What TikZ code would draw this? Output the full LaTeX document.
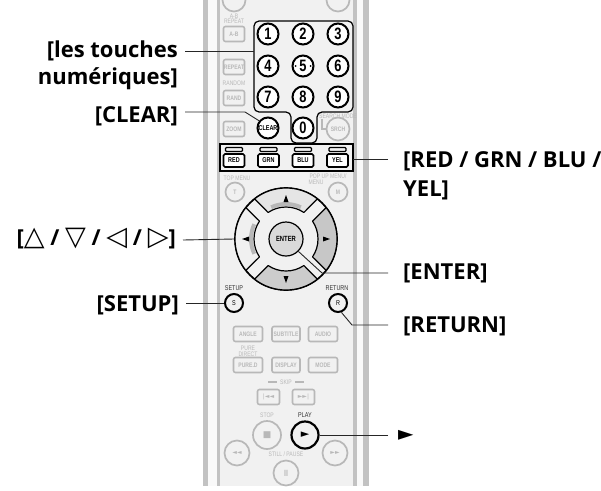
\documentclass[tikz,border=0pt]{standalone}
\usepackage{fontspec}
\setmainfont{Open Sans}
\newfontfamily\keyfont[FakeStretch=0.78]{Liberation Sans}
\newfontfamily\symfont{DejaVu Sans}
\definecolor{faded}{HTML}{B8B8B8}
\definecolor{casing}{HTML}{F1F1F1}
\definecolor{rail}{HTML}{C2C2C2}
\tikzset{
  callout/.style={font=\fontsize{22}{26}\selectfont\bfseries, inner ysep=0pt, inner xsep=7pt, text depth=0pt, text height=#1},
  callout/.default=12pt,
  leader/.style={black!85!white, line width=0.9pt},
  numkey/.style={circle, draw=black, line width=2pt, fill=white, minimum size=21pt, inner sep=0pt, font=\keyfont\bfseries\fontsize{16.5}{17}\selectfont},
  blackkey/.style={circle, draw=black, line width=2pt, fill=casing, inner sep=0pt, font=\keyfont\fontsize{7}{8}\selectfont},
  colourkey/.style={rounded corners=1.5pt, draw=black, line width=1.6pt, fill=white, minimum width=21pt, minimum height=13pt, inner sep=0pt, font=\keyfont\bfseries\fontsize{7}{8}\selectfont},
  colourbar/.style={rounded corners=1pt, draw=black, line width=1.3pt, fill=casing, minimum width=17pt, minimum height=4pt, inner sep=0pt},
  fadekey/.style={rounded corners=2pt, draw=faded, line width=1.6pt, fill=casing, text=faded, inner sep=0pt, font=\keyfont\bfseries\fontsize{6.5}{7}\selectfont},
  fadedisc/.style={circle, draw=faded, line width=1.7pt, fill=casing, text=faded, inner sep=0pt, font=\keyfont\bfseries\fontsize{6.5}{7}\selectfont},
  fadetext/.style={text=faded, inner sep=0pt, font=\keyfont\fontsize{6.5}{7}\selectfont},
  blacktext/.style={text=black!80!white, inner sep=0pt, font=\keyfont\fontsize{7}{8}\selectfont},
  petal/.style={draw=black, line width=1.2pt, line join=round}
}
\begin{document}
\begin{tikzpicture}[x=1pt,y=-1pt]
\useasboundingbox (0,0) rectangle (601,490);

%% Casing
\fill[white] (0,0) rectangle (601,490);
\fill[casing] (208,0) rectangle (363,486);
\fill[rail] (203,0) rectangle (208,486);
\fill[rail] (217,0) rectangle (220,486);
\fill[rail] (353,0) rectangle (357,486);
\fill[rail] (363,0) rectangle (369,486);
\fill[white!60!casing] (208,0) rectangle (217,486);
\fill[white!60!casing] (357,0) rectangle (363,486);

%% Top row, mostly cut off
\node[fadedisc, minimum size=23pt] (topL) at (234,0) {};
\node[fadedisc, minimum size=23pt] (topR) at (338,0) {};

%% Faded keys on the left
\node[fadetext] (abtxt) at (234,16) {A-B};
\node[fadetext] (reptxt) at (234,21) {REPEAT};
\node[fadekey, minimum width=21pt, minimum height=15pt] (ab) at (234,34) {A-B};
\node[fadekey, minimum width=21pt, minimum height=15pt] (repeat) at (234,67) {REPEAT};
\node[fadetext] (randtxt) at (234,83) {RANDOM};
\node[fadekey, minimum width=21pt, minimum height=15pt] (rand) at (234,98) {RAND};
\node[fadekey, minimum width=21pt, minimum height=15pt] (zoom) at (234,129) {ZOOM};

%% Search
\node[fadetext] (srchtxt) at (338,116) {SEARCH MODE};
\node[fadedisc, minimum size=23pt] (srch) at (338,129) {SRCH};
\coordinate (srchbend) at (322,129);
\draw[faded, line width=1.5pt] (322,119) -- (srchbend) -- (srch);

%% Number keys and their frame
\draw[black, line width=1.2pt, rounded corners=5pt, fill=casing] (254,21) -- (353,21) -- (353,112) -- (317,112) -- (317,143) -- (291,143) -- (291,112) -- (254,112) -- cycle;
\coordinate (frameL) at (254,51);
\node[numkey] (k1) at (268,34) {1};
\node[numkey] (k2) at (303,34) {2};
\node[numkey] (k3) at (338,34) {3};
\node[numkey] (k4) at (268,66) {4};
\node[numkey] (k5) at (303,66) {5};
\node[numkey] (k6) at (338,66) {6};
\node[numkey] (k7) at (268,97) {7};
\node[numkey] (k8) at (303,97) {8};
\node[numkey] (k9) at (338,97) {9};
\node[numkey] (k0) at (303,128) {0};
\node[numkey, font=\keyfont\bfseries\fontsize{7}{8}\selectfont] (clear) at (268,128) {CLEAR};
\fill (295.5,66) circle (1pt);
\fill (310.5,66) circle (1pt);

%% Colour keys
\draw[black, line width=1.2pt, fill=casing] (220,144) rectangle (353,171);
\coordinate (frameR) at (353,159);
\node[colourbar] (barR) at (234,149.5) {};
\node[colourbar] (barG) at (268.5,149.5) {};
\node[colourbar] (barB) at (303,149.5) {};
\node[colourbar] (barY) at (337.5,149.5) {};
\node[colourkey] (red) at (234,160.5) {RED};
\node[colourkey] (grn) at (268.5,160.5) {GRN};
\node[colourkey] (blu) at (303,160.5) {BLU};
\node[colourkey] (yel) at (337.5,160.5) {YEL};

%% Menu keys
\node[fadetext] (toptxt) at (237,178) {TOP MENU};
\node[fadedisc, minimum size=19pt] (topmenu) at (235,192) {T};
\node[fadetext] (poptxt) at (328,176) {POP UP MENU/};
\node[fadetext] (menutxt) at (316,182) {MENU};
\node[fadedisc, minimum size=19pt] (menu) at (338,192) {M};

%% Navigation
\node[circle, draw=black, line width=1.7pt, fill=casing, minimum size=102pt, inner sep=0pt] (nav) at (286,239) {};
\begin{scope}[shift={(286,239)}]
\draw[petal, fill=black!10] (232:51) arc[start angle=232,end angle=308,radius=51] -- (304:32) arc[start angle=304,end angle=236,radius=32] -- cycle;
\draw[petal, fill=black!20] (52:51) arc[start angle=52,end angle=128,radius=51] -- (124:32) arc[start angle=124,end angle=56,radius=32] -- cycle;
\draw[petal, fill=black!6] (142:51) arc[start angle=142,end angle=218,radius=51] -- (214:32) arc[start angle=214,end angle=146,radius=32] -- cycle;
\draw[petal, fill=black!22] (-38:51) arc[start angle=-38,end angle=38,radius=51] -- (34:32) arc[start angle=34,end angle=-34,radius=32] -- cycle;
\draw[black!28, line width=4pt] (245:35) arc[start angle=245,end angle=295,radius=35];
\draw[black!28, line width=4pt] (155:35) arc[start angle=155,end angle=205,radius=35];
\fill (-2.5,-37) -- (2.5,-37) -- (0,-44) -- cycle;
\fill (-2.5,37) -- (2.5,37) -- (0,44) -- cycle;
\fill (-37,-2.5) -- (-37,2.5) -- (-44,0) -- cycle;
\fill (37,-2.5) -- (37,2.5) -- (44,0) -- cycle;
\end{scope}
\node[circle, draw=black, line width=1.2pt, fill=black!15, minimum size=34pt, inner sep=0pt, font=\keyfont\bfseries\fontsize{7.5}{8}\selectfont] (enter) at (286,239) {ENTER};

%% Setup and return
\node[blacktext] (setuptxt) at (234,288) {SETUP};
\node[blackkey, minimum size=18pt] (setup) at (234,303) {S};
\node[blacktext] (returntxt) at (337,288) {RETURN};
\node[blackkey, minimum size=18pt] (return) at (338,303) {R};

%% Faded rows
\node[fadekey, minimum width=29pt, minimum height=15pt] (angle) at (248,334) {ANGLE};
\node[fadekey, minimum width=28pt, minimum height=15pt] (subtitle) at (286,334) {SUBTITLE};
\node[fadekey, minimum width=29pt, minimum height=15pt] (audio) at (323,334) {AUDIO};
\node[fadetext] (puretxt) at (248,348) {PURE};
\node[fadetext] (directtxt) at (248,354) {DIRECT};
\node[fadekey, minimum width=29pt, minimum height=15pt] (pured) at (248,365) {PURE.D};
\node[fadekey, minimum width=28pt, minimum height=15pt] (display) at (286,365) {DISPLAY};
\node[fadekey, minimum width=29pt, minimum height=15pt] (mode) at (323,365) {MODE};
\node[fadetext, fill=casing, inner xsep=1pt] (skiptxt) at (286,382) {SKIP};
\fill[faded] (268,381) rectangle (277,383);
\fill[faded] (295,381) rectangle (304,383);
\node[fadekey, minimum width=22pt, minimum height=15pt, font=\symfont\fontsize{6}{7}\selectfont] (skipL) at (268.5,397) {|◄◄};
\node[fadekey, minimum width=22pt, minimum height=15pt, font=\symfont\fontsize{6}{7}\selectfont] (skipR) at (303.5,397) {►►|};

%% Transport
\node[fadetext] (stoptxt) at (267,415) {STOP};
\node[blacktext] (playtxt) at (305,415) {PLAY};
\node[fadedisc, minimum size=28pt, font=\symfont\fontsize{9}{9}\selectfont] (stop) at (267,435) {■};
\node[circle, draw=black, line width=2.2pt, fill=casing, minimum size=27pt, inner sep=0pt, font=\symfont\fontsize{11}{11}\selectfont] (play) at (305,435) {►};
\node[fadedisc, minimum size=25pt, font=\symfont\fontsize{6}{7}\selectfont] (rew) at (237,453) {◄◄};
\node[fadedisc, minimum size=25pt, font=\symfont\fontsize{6}{7}\selectfont] (ffw) at (335,453) {►►};
\node[fadetext] (pausetxt) at (286,454) {STILL / PAUSE};
\node[fadedisc, minimum size=25pt, font=\keyfont\bfseries\fontsize{9}{9}\selectfont] (pause) at (286,473) {II};

%% Labels on the left
\node[callout=12pt, anchor=base east] (touches) at (185,57) {[les touches};
\node[callout=12pt, anchor=base east] (numeriques) at (185,84) {numériques]};
\node[callout=20pt, anchor=base east] (clearL) at (185,122) {[CLEAR]};
\node[callout=10pt, anchor=base east] (arrowsL) at (183,245) {[{\symfont\fontsize{27}{27}\selectfont△} / {\symfont\fontsize{27}{27}\selectfont▽} / {\symfont\fontsize{27}{27}\selectfont◁} / {\symfont\fontsize{27}{27}\selectfont▷}]};
\node[callout=16pt, anchor=base east] (setupL) at (186,311) {[SETUP]};

%% Labels on the right
\node[callout=16pt, anchor=base west, inner xsep=15pt] (colourL) at (388,167) {[RED / GRN / BLU /};
\node[callout=12pt, anchor=base west, inner xsep=15pt] (yelL) at (388,196) {YEL]};
\node[callout=12pt, anchor=base west, inner xsep=15pt] (enterL) at (388,279) {[ENTER]};
\node[callout=14pt, anchor=base west, inner xsep=15pt] (returnL) at (388,332) {[RETURN]};
\node[anchor=west, inner ysep=0pt, inner xsep=10pt, font=\symfont\fontsize{20}{24}\selectfont] (playL) at (388,435) {►};

%% Leaders
\coordinate (clearbend) at (245,112);
\coordinate (enterbend) at (322,273);
\coordinate (returnbend) at (352,325);
\draw[leader] (touches.east) -- (frameL);
\draw[leader] (clearL.east) -- (clearbend) -- (clear.141);
\draw[leader] (arrowsL.east) -- (nav.west);
\draw[leader] (setupL.east) -- (setup.west);
\draw[leader] (colourL.west) -- (frameR);
\draw[leader] (enterL.west) -- (enterbend) -- (enter.-45);
\draw[leader] (returnL.west) -- (returnbend) -- (return.-70);
\draw[leader] (playL.west) -- (play.east);

\end{tikzpicture}
\end{document}
